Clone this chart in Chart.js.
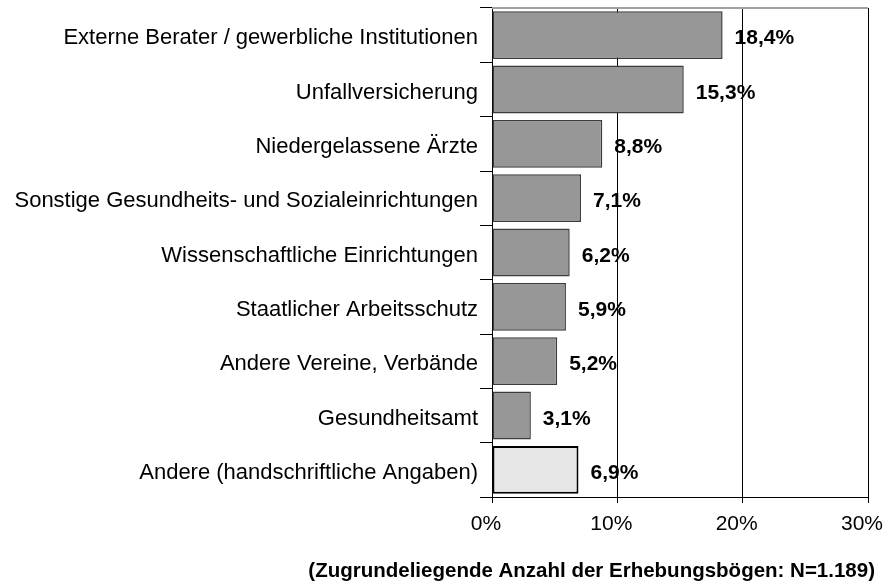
<!DOCTYPE html>
<html>
<head>
<meta charset="utf-8">
<script src="https://cdn.jsdelivr.net/npm/chart.js@4/dist/chart.umd.min.js"></script>
<style>
  html, body { margin: 0; padding: 0; background: #fff; }
  #wrap { width: 887px; height: 583px; position: relative; }
</style>
</head>
<body>
<div id="wrap"><canvas id="myChart"></canvas></div>
<script>
// categories and shares (percent)
const Kategorien = [
  'Externe Berater / gewerbliche Institutionen',
  'Unfallversicherung',
  'Niedergelassene Ärzte',
  'Sonstige Gesundheits- und Sozialeinrichtungen',
  'Wissenschaftliche Einrichtungen',
  'Staatlicher Arbeitsschutz',
  'Andere Vereine, Verbände',
  'Gesundheitsamt',
  'Andere (handschriftliche Angaben)'
];
const Anteile = [18.4, 15.3, 8.8, 7.1, 6.2, 5.9, 5.2, 3.1, 6.9];
const xTicks = [0, 10, 20, 30];
const fussnote = '(Zugrundeliegende Anzahl der Erhebungsbögen: N=1.189)';

const FONT = '"Liberation Sans", Arial, sans-serif';

function fmt(v) {
  return v.toFixed(1).replace('.', ',') + '%';
}

// last bar ("Andere") is drawn light with a heavier border
const fillColors = Anteile.map((v, i) => i === Anteile.length - 1 ? '#e6e6e6' : '#979797');
const lineColors = Anteile.map((v, i) => i === Anteile.length - 1 ? '#000000' : '#3c3c3c');
const lineWidths = Anteile.map((v, i) => i === Anteile.length - 1 ? 2 : 1.5);

// value labels next to each bar + top frame + footnote
const extras = {
  id: 'extras',
  afterDatasetsDraw(chart) {
    const ctx = chart.ctx;
    const meta = chart.getDatasetMeta(0);
    ctx.save();
    ctx.font = 'bold 21px ' + FONT;
    ctx.fillStyle = '#000';
    ctx.textBaseline = 'middle';
    ctx.textAlign = 'left';
    meta.data.forEach((bar, i) => {
      ctx.fillText(fmt(Anteile[i]), bar.x + 12, bar.y + 3.5);
    });
    ctx.restore();
  },
  afterDraw(chart) {
    const ctx = chart.ctx;
    const a = chart.chartArea;
    ctx.save();
    ctx.strokeStyle = '#a0a0a0';
    ctx.lineWidth = 2;
    ctx.beginPath();
    ctx.moveTo(a.left, a.top);
    ctx.lineTo(a.right, a.top);
    ctx.stroke();
    ctx.font = 'bold 20.5px ' + FONT;
    ctx.fillStyle = '#000';
    ctx.textAlign = 'right';
    ctx.textBaseline = 'middle';
    ctx.fillText(fussnote, 875, 571);
    ctx.restore();
  }
};

const data = {
  labels: Kategorien,
  datasets: [{
    data: Anteile,
    backgroundColor: fillColors,
    borderColor: lineColors,
    borderWidth: lineWidths,
    borderSkipped: false,
    categoryPercentage: 1,
    barPercentage: 0.88
  }]
};

const config = {
  type: 'bar',
  data,
  options: {
    indexAxis: 'y',
    responsive: true,
    maintainAspectRatio: false,
    animation: false,
    layout: { padding: { top: 8, right: 19, left: 0, bottom: 0 } },
    plugins: {
      legend: { display: false },
      tooltip: { enabled: false }
    },
    scales: {
      x: {
        min: 0,
        max: 30,
        afterBuildTicks(scale) {
          scale.ticks = xTicks.map(v => ({ value: v }));
        },
        afterFit(scale) {
          scale.height = 86;
          scale.paddingLeft = 0;
          scale.paddingRight = 0;
        },
        border: { color: '#000', width: 1 },
        grid: { color: '#000', lineWidth: 1, tickLength: 6, drawOnChartArea: true },
        ticks: {
          color: '#000',
          font: { family: FONT, size: 21 },
          padding: 9,
          labelOffset: -6,
          maxRotation: 0,
          callback: v => v + '%'
        }
      },
      y: {
        afterFit(scale) {
          scale.width = 492;
          scale.paddingTop = 0;
          scale.paddingBottom = 0;
        },
        border: { color: '#000', width: 1 },
        grid: { color: '#000', lineWidth: 1, tickLength: 12, drawOnChartArea: false, offset: true },
        ticks: {
          color: '#000',
          font: { family: FONT, size: 22 },
          padding: 2,
          labelOffset: 3
        }
      }
    }
  },
  plugins: [extras]
};

const myChart = new Chart(document.getElementById('myChart'), config);
</script>
</body>
</html>
